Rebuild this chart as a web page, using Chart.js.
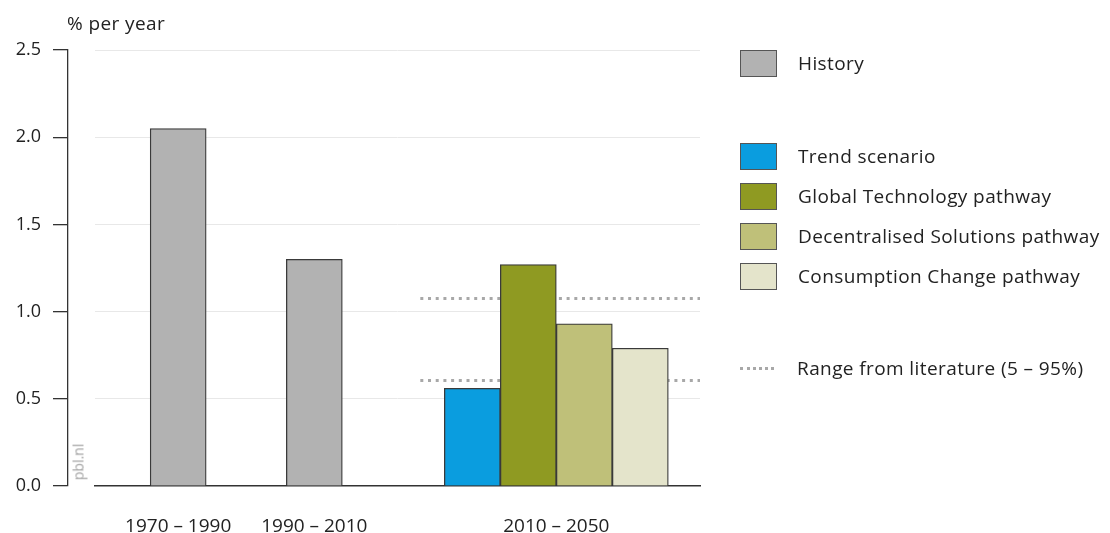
<!DOCTYPE html>
<html>
<head>
<meta charset="utf-8">
<script src="https://cdn.jsdelivr.net/npm/chart.js@4.4.1/dist/chart.umd.min.js"></script>
<style>
  body { margin: 0; background: #fff; font-family: "Open Sans", sans-serif; color: #222; }
  #wrap { position: relative; width: 1110px; height: 533px; }
  #growthChart { position: absolute; left: 0; top: 0; }
  .unit { position: absolute; left: 67px; top: 10px; font-size: 19px; letter-spacing: 0.4px; }
  .source { position: absolute; left: 78px; top: 462px; font-size: 14px; color: #a0a0a0;
            transform: translate(-50%, -50%) rotate(-90deg); white-space: nowrap; }
  .legend-item { position: absolute; left: 740px; height: 26px; display: flex; align-items: center;
                 font-size: 19px; letter-spacing: 0.4px; white-space: nowrap; }
  .legend-box { width: 35px; height: 25px; border: 1px solid #555; margin-right: 21px; }
  .legend-dots { width: 34px; height: 0; border-top: 3px dotted #a8a8a8; margin-right: 23px; }
</style>
</head>
<body>
<div id="wrap">
  <canvas id="growthChart" width="1110" height="533"></canvas>
  <div class="unit">% per year</div>
  <div class="source">pbl.nl</div>
  <div id="legend"></div>
</div>
<script>
// growth rates, % per year
const periods = ['1970 – 1990', '1990 – 2010', '2010 – 2050'];
const historyLabel = 'History';
const historyValues = [2.05, 1.30];
const scenarioNames = ['Trend scenario', 'Global Technology pathway', 'Decentralised Solutions pathway', 'Consumption Change pathway'];
const scenarioValues = [0.56, 1.27, 0.93, 0.79];
const literatureRange = [0.61, 1.08];
const rangeLabel = 'Range from literature (5 – 95%)';
const yTicks = [0, 0.5, 1.0, 1.5, 2.0, 2.5];

// x axis is split into narrow slots so the periods sit where they should
const slotCount = 40;
const periodSlots = [5, 14, 30];
const barWidth = 56;

const historyColor = '#b2b2b2';
const scenarioColors = ['#0a9ddf', '#8f9a22', '#bfc079', '#e4e4cb'];
const edgeColor = '#3a3a3a';

const slotLabels = Array(slotCount).fill('');
periods.forEach((p, i) => slotLabels[periodSlots[i]] = p);

const historyData = Array(slotCount).fill(null);
historyValues.forEach((v, i) => historyData[periodSlots[i]] = v);

const datasets = [{
  label: historyLabel,
  data: historyData,
  backgroundColor: historyColor
}];
scenarioNames.forEach((name, i) => {
  const d = Array(slotCount).fill(null);
  d[periodSlots[2]] = scenarioValues[i];
  datasets.push({ label: name, data: d, backgroundColor: scenarioColors[i] });
});

// dotted literature range across the 2010 – 2050 block, behind the bars
const rangeLines = {
  id: 'rangeLines',
  beforeDatasetsDraw(chart) {
    const { ctx, chartArea, scales } = chart;
    const center = scales.x.getPixelForValue(periodSlots[2]);
    const from = center - 2 * barWidth - 24;
    ctx.save();
    ctx.strokeStyle = '#a8a8a8';
    ctx.lineWidth = 3;
    ctx.setLineDash([3, 4.7]);
    literatureRange.forEach(v => {
      const y = Math.round(scales.y.getPixelForValue(v)) + 0.5;
      ctx.beginPath();
      ctx.moveTo(from, y);
      ctx.lineTo(chartArea.right, y);
      ctx.stroke();
    });
    ctx.restore();
  }
};

const font = { family: '"Open Sans", sans-serif', size: 18 };

const chart = new Chart(document.getElementById('growthChart'), {
  type: 'bar',
  data: { labels: slotLabels, datasets },
  options: {
    responsive: false,
    animation: false,
    layout: { padding: { top: 50, right: 410, bottom: 0, left: 0 } },
    datasets: {
      bar: {
        barThickness: barWidth,
        grouped: true,
        skipNull: true,
        borderColor: edgeColor,
        borderWidth: 1.3
      }
    },
    plugins: { legend: { display: false }, tooltip: { enabled: false } },
    scales: {
      x: {
        grid: { display: false },
        border: { color: '#333', width: 1.5 },
        ticks: { font: { ...font, size: 19 }, color: '#222', padding: 21, autoSkip: false, maxRotation: 0 },
        afterFit(s) { s.height = 47; }
      },
      y: {
        min: 0, max: 2.5,
        weight: 0,
        ticks: { display: false, stepSize: 0.5 },
        grid: {
          drawTicks: false,
          color: c => c.tick.value === 0 ? 'rgba(0,0,0,0)' : '#e8e8e8'
        },
        border: { display: false },
        afterFit(s) { s.width = 27; }
      },
      yAxis: {
        type: 'linear',
        position: 'left',
        min: 0, max: 2.5,
        weight: 1,
        afterBuildTicks(s) { s.ticks = yTicks.map(v => ({ value: v })); },
        ticks: { font, color: '#222', padding: 12, callback: v => v.toFixed(1) },
        grid: { drawOnChartArea: false, tickLength: 15, color: '#333', lineWidth: 1.3 },
        border: { color: '#333', width: 1.3 },
        afterFit(s) { s.width = 68; }
      }
    }
  },
  plugins: [rangeLines]
});

// legend on the right, built from the datasets
const legend = document.getElementById('legend');
const rowTops = [50, 143, 183, 223, 263];
chart.data.datasets.forEach((ds, i) => {
  const row = document.createElement('div');
  row.className = 'legend-item';
  row.style.top = rowTops[i] + 'px';
  row.innerHTML = `<span class="legend-box" style="background:${ds.backgroundColor}"></span>${ds.label}`;
  legend.appendChild(row);
});
const rangeRow = document.createElement('div');
rangeRow.className = 'legend-item';
rangeRow.style.top = '355px';
rangeRow.innerHTML = `<span class="legend-dots"></span>${rangeLabel}`;
legend.appendChild(rangeRow);
</script>
</body>
</html>
